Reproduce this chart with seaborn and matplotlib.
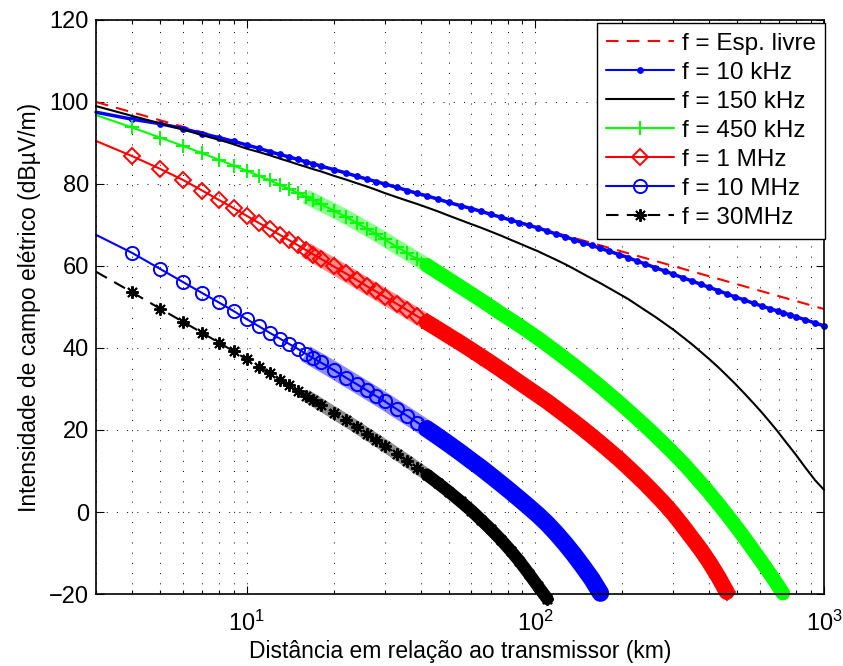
import matplotlib
matplotlib.use('Agg')
import matplotlib.pyplot as plt
import seaborn as sns
from matplotlib.ticker import LogLocator, NullFormatter

sns.set_style('white')
plt.rcParams['font.family'] = ['Liberation Sans', 'DejaVu Sans']
plt.rcParams['mathtext.default'] = 'regular'
plt.rcParams['font.size'] = 17
for k in ['text.color', 'axes.labelcolor', 'xtick.color', 'ytick.color']:
    plt.rcParams[k] = 'k'

# distancias (km) onde as curvas foram lidas
dist_km = [3, 4, 5, 6, 7, 8, 9, 10, 11, 12, 13, 14, 15, 16, 17, 18,
           20, 22, 24, 26, 28, 30, 33, 36, 39, 42,
           46, 50, 55, 60, 65, 70, 76, 82, 88, 95,
           102, 110, 118, 127, 136, 146, 157, 168, 180, 195,
           210, 225, 240, 260, 280, 300, 325, 350, 375, 400,
           430, 460, 490, 530, 570, 610, 650, 690, 720, 760,
           800, 860, 930, 1000]

# espaco livre
fs_km = [3, 10, 30, 100, 300, 1000]
fs_db = [100.0, 89.5, 80.0, 69.5, 60.0, 49.5]

e_10khz = [97.5, 95.8, 94.7, 93.5, 92.3, 91.3, 90.4, 89.5, 88.7, 87.9, 87.2, 86.6, 86.0, 85.4, 84.9, 84.4,
           83.5, 82.7, 81.9, 81.2, 80.6, 80.0, 79.2, 78.4, 77.7, 77.1,
           76.3, 75.5, 74.7, 74.0, 73.3, 72.6, 71.9, 71.2, 70.6, 69.9,
           69.3, 68.5, 67.8, 67.1, 66.4, 65.7, 65.0, 64.3, 63.6, 62.8,
           62.0, 61.2, 60.5, 59.6, 58.8, 58.0, 57.1, 56.3, 55.5, 54.8,
           54.0, 53.2, 52.5, 51.7, 50.9, 50.2, 49.6, 49.0, 48.6, 48.1,
           47.6, 46.9, 46.1, 45.4]

e_150khz = [99.0, 96.6, 94.8, 93.3, 91.9, 90.8, 89.7, 88.6, 87.8, 87.0, 86.2, 85.5, 84.8, 84.2, 83.6, 83.1,
            82.0, 81.1, 80.2, 79.4, 78.6, 77.8, 76.8, 75.9, 75.1, 74.3,
            73.3, 72.3, 71.2, 70.2, 69.3, 68.4, 67.4, 66.4, 65.5, 64.5,
            63.6, 62.5, 61.5, 60.4, 59.3, 58.1, 56.9, 55.8, 54.6, 53.2,
            51.9, 50.5, 49.2, 47.6, 46.0, 44.5, 42.6, 40.8, 39.0, 37.3,
            35.3, 33.3, 31.4, 28.9, 26.5, 24.2, 21.9, 19.7, 18.0, 15.9,
            13.9, 10.9, 7.8, 5.4]

e_450khz = [96.8, 93.8, 91.3, 89.3, 87.5, 85.9, 84.5, 83.2, 82.0, 80.9, 79.8, 78.8, 77.8, 76.9, 76.0, 75.1,
            73.5, 72.0, 70.5, 69.1, 67.8, 66.5, 64.7, 63.1, 61.6, 60.2,
            58.4, 56.8, 54.9, 53.2, 51.6, 50.1, 48.4, 46.9, 45.5, 43.9,
            42.4, 40.7, 39.1, 37.4, 35.8, 34.1, 32.3, 30.6, 28.8, 26.7,
            24.7, 22.8, 21.0, 18.7, 16.5, 14.4, 11.9, 9.4, 7.0, 4.7,
            2.0, -0.6, -3.1, -6.3, -9.4, -12.3, -15.1, -17.8, -19.8]

e_1mhz = [90.5, 86.8, 83.7, 81.0, 78.4, 76.1, 74.1, 72.2, 70.5, 69.0, 67.6, 66.3, 65.1, 63.9, 62.8, 61.8,
          59.9, 58.2, 56.6, 55.1, 53.8, 52.5, 50.8, 49.2, 47.7, 46.3,
          44.6, 43.0, 41.2, 39.5, 37.9, 36.4, 34.7, 33.1, 31.6, 30.0,
          28.5, 26.9, 25.3, 23.6, 22.0, 20.3, 18.5, 16.8, 15.0, 12.9,
          10.8, 8.8, 6.9, 4.4, 2.0, -0.4, -3.5, -6.5, -9.3, -12.2,
          -15.8, -19.5]

e_10mhz = [67.6, 63.2, 59.3, 56.1, 53.4, 51.1, 49.0, 47.0, 45.3, 43.7, 42.3, 41.0, 39.8, 38.6, 37.5, 36.5,
           34.6, 32.8, 31.2, 29.7, 28.3, 27.0, 25.1, 23.4, 21.8, 20.3,
           18.4, 16.6, 14.5, 12.5, 10.7, 8.9, 6.9, 5.0, 3.2, 1.2,
           -0.7, -2.9, -5.2, -7.8, -10.4, -13.3, -16.4, -19.8]

e_30mhz = [58.6, 53.6, 49.6, 46.4, 43.7, 41.3, 39.2, 37.2, 35.4, 33.8, 32.3, 30.9, 29.6, 28.4, 27.3, 26.2,
           24.2, 22.4, 20.7, 19.1, 17.6, 16.2, 14.2, 12.4, 10.7, 9.1,
           7.0, 5.0, 2.6, 0.3, -2.0, -4.2, -6.8, -9.4, -12.0, -15.1,
           -18.1, -21.2]

fig = plt.figure(figsize=(8.43, 6.66), dpi=100)
ax = fig.add_axes([0.1139, 0.1081, 0.8636, 0.8619])

sns.lineplot(x=fs_km, y=fs_db, ax=ax, color='r', linestyle=(0, (6, 4)), lw=1.5,
             label='f = Esp. livre', sort=False, clip_on=False)

# (valores, legenda, cor, estilo, marcador, tamanho, largura da faixa de marcadores sobrepostos)
series = [
    (e_10khz, 'f = 10 kHz', 'b', '-', '.', 7, 0),
    (e_150khz, 'f = 150 kHz', 'k', '-', None, 0, 0),
    (e_450khz, 'f = 450 kHz', (0, 1, 0), '-', '+', 10, 10.5),
    (e_1mhz, 'f = 1 MHz', 'r', '-', 'D', 8, 11.5),
    (e_10mhz, 'f = 10 MHz', 'b', '-', 'o', 9.5, 12.5),
    (e_30mhz, 'f = 30MHz', 'k', (0, (6, 4)), (8, 2, 0), 9, 9),
]
# onde os marcadores comecam a se sobrepor e onde viram faixa cheia
overlap_km, solid_km = 16, 42

for vals, lab, cor, ls, mk, ms, band_lw in series:
    x = dist_km[:len(vals)]
    if band_lw:
        i1 = next(i for i, d in enumerate(x) if d >= overlap_km)
        i2 = next(i for i, d in enumerate(x) if d >= solid_km)
        sns.lineplot(x=x[i1:i2 + 1], y=vals[i1:i2 + 1], ax=ax, color=cor, lw=band_lw, alpha=0.45,
                     sort=False, clip_on=False, solid_capstyle='butt')
        sns.lineplot(x=x[i2:], y=vals[i2:], ax=ax, color=cor, lw=band_lw, sort=False,
                     clip_on=False, solid_capstyle='round')
    kw = {}
    if mk:
        kw = dict(marker=mk, markersize=ms, markerfacecolor=cor if mk == '.' else 'none',
                  markeredgecolor=cor, markeredgewidth=1.4, markevery=slice(1, None))
    lw = 2.5 if mk == '.' else 1.5
    sns.lineplot(x=x, y=vals, ax=ax, color=cor, linestyle=ls, lw=lw,
                 label=lab, sort=False, clip_on=False, **kw)

ax.set_xscale('log')
ax.set_xlim(3, 1000)
ax.set_ylim(-20, 120)
ax.set_yticks(range(-20, 121, 20))
ax.xaxis.set_minor_locator(LogLocator(base=10, subs=range(2, 10)))
ax.xaxis.set_minor_formatter(NullFormatter())

dots = (0, (1, 9.5))
ax.grid(True, which='major', axis='both', linestyle=dots, color='k', lw=0.7)
ax.grid(True, which='minor', axis='x', linestyle=dots, color='k', lw=0.7)
ax.tick_params(which='both', direction='in', bottom=True, top=True, left=True, right=True,
               labelsize=17, width=0.8)
ax.tick_params(which='major', length=6)
ax.tick_params(which='minor', length=3)
ax.tick_params(axis='y', pad=5)
ax.tick_params(axis='x', pad=12)
for s in ax.spines.values():
    s.set_color('k')
    s.set_linewidth(1.2)

ax.set_xlabel('Distância em relação ao transmissor (km)', fontsize=16.5, labelpad=3)
ax.set_ylabel('Intensidade de campo elétrico (dBµV/m)', fontsize=16.5, labelpad=6)

leg = ax.legend(loc='upper right', bbox_to_anchor=(1.002, 0.995), borderaxespad=0, fancybox=False,
                edgecolor='k', framealpha=1, handlelength=2.8, handletextpad=0.3,
                labelspacing=0.29, borderpad=0.4, fontsize=17.5)
leg.get_frame().set_linewidth(1.0)
for ln in leg.get_lines():
    ln.set_markevery([1])
    if ln.get_marker() == '.':
        ln.set_linewidth(1.5)

fig.savefig('out.png', dpi=100)
